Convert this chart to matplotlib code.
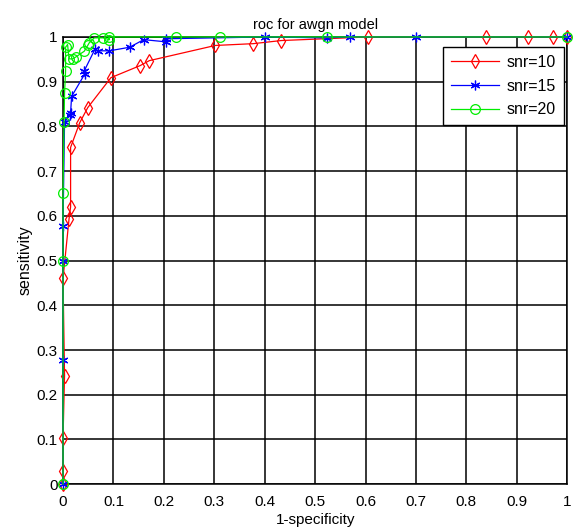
import numpy as np
import matplotlib
matplotlib.use('Agg')
import matplotlib.pyplot as plt

plt.rcParams['font.family'] = ['Liberation Sans', 'DejaVu Sans']

# snr=10
fpr_10 = [0, 0, 0, 0.003, 0, 0.012, 0.015, 0.015, 0.033, 0.049, 0.095, 0.153, 0.171,
          0.302, 0.377, 0.433, 0.605, 0.839, 0.923, 0.972, 1.0]
tpr_10 = [0, 0.03, 0.103, 0.243, 0.46, 0.594, 0.62, 0.753, 0.808, 0.842, 0.909, 0.936, 0.947,
          0.981, 0.985, 0.992, 1.0, 1.0, 1.0, 1.0, 1.0]

# snr=15
fpr_15 = [0, 0, 0, 0, 0.003, 0.013, 0.015, 0.017, 0.043, 0.042, 0.063, 0.069, 0.092,
          0.132, 0.16, 0.205, 0.205, 0.4, 0.523, 0.57, 0.7, 1.0]
tpr_15 = [0, 0.277, 0.5, 0.578, 0.809, 0.825, 0.831, 0.867, 0.917, 0.924, 0.972, 0.969, 0.969,
          0.977, 0.994, 0.989, 0.996, 1.0, 0.998, 1.0, 1.0, 1.0]

# snr=20
fpr_20 = [0, 0, 0, 0.002, 0.003, 0.005, 0.005, 0.009, 0.012, 0.019, 0.025, 0.042, 0.049,
          0.052, 0.062, 0.079, 0.092, 0.092, 0.225, 0.311, 0.523, 1.0]
tpr_20 = [0, 0.5, 0.652, 0.81, 0.874, 0.923, 0.977, 0.983, 0.951, 0.951, 0.955, 0.968, 0.981,
          0.987, 0.998, 0.998, 0.994, 1.0, 1.0, 1.0, 1.0, 1.0]

ticks = np.arange(0, 1.01, 0.1)
tick_labels = ['0', '0.1', '0.2', '0.3', '0.4', '0.5', '0.6', '0.7', '0.8', '0.9', '1']

fig = plt.figure(figsize=(5.73, 5.28), dpi=100)
ax = fig.add_axes([0.110, 0.083, 0.880, 0.847])

ax.plot(fpr_10, tpr_10, color='#ff0000', marker='d', markersize=7, markerfacecolor='none',
        markeredgewidth=0.9, linewidth=0.9, label='snr=10', clip_on=False, zorder=3)
ax.plot(fpr_15, tpr_15, color='#0000ff', marker=(6, 2, 0), markersize=7,
        markeredgewidth=0.9, linewidth=0.9, label='snr=15', clip_on=False, zorder=4)
ax.plot(fpr_20, tpr_20, color='#00ee00', marker='o', markersize=7, markerfacecolor='none',
        markeredgewidth=0.9, linewidth=0.9, label='snr=20', clip_on=False, zorder=5)

ax.set_xlim(0, 1)
ax.set_ylim(0, 1)
ax.set_xticks(ticks)
ax.set_xticklabels(tick_labels)
ax.set_yticks(ticks)
ax.set_yticklabels(tick_labels)
ax.grid(True, color='black', linewidth=1.1, linestyle='-')
ax.set_axisbelow(True)
ax.tick_params(direction='in', length=0, labelsize=11)
ax.tick_params(axis='x', pad=8)
ax.tick_params(axis='y', pad=4)
for sp in ax.spines.values():
    sp.set_color('black')
    sp.set_linewidth(1.1)

ax.set_title('roc for awgn model', fontsize=10.5, pad=6)
ax.set_xlabel('1-specificity', fontsize=11, labelpad=3)
ax.set_ylabel('sensitivity', fontsize=11.5, labelpad=3)

leg = ax.legend(loc='upper right', bbox_to_anchor=(0.993, 0.978), borderaxespad=0,
                fontsize=11.5, frameon=True, fancybox=False, edgecolor='black',
                handlelength=3.0, handletextpad=0.5, borderpad=0.5, labelspacing=0.55,
                framealpha=1)
leg.get_frame().set_linewidth(1.0)

fig.savefig('out.png', dpi=100)
